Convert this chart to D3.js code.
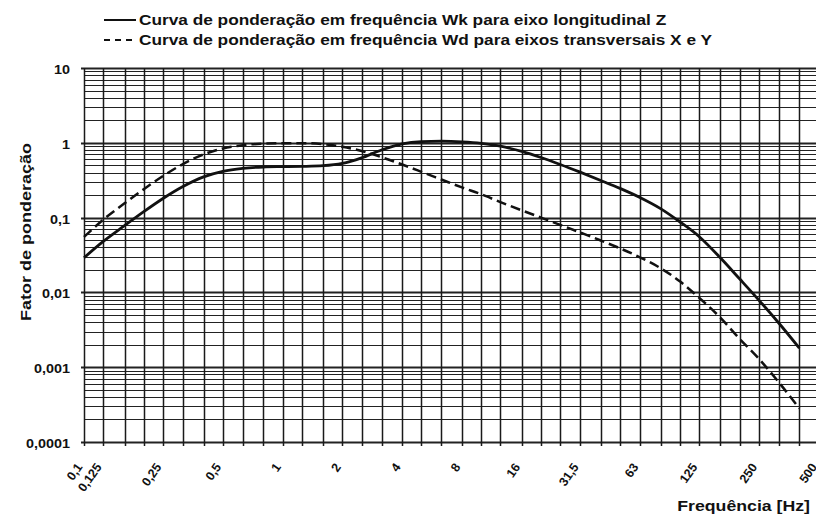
<!DOCTYPE html>
<html>
<head>
<meta charset="utf-8">
<script src="https://cdn.jsdelivr.net/npm/d3@7"></script>
<style>
  body { margin: 0; background: #fff; }
  text { font-family: "Liberation Sans", Arial, sans-serif; font-weight: bold; fill: #111; }
</style>
</head>
<body>
<script>
// third-octave band centre frequencies (Hz) where the curves are read
const freqs = [0.1, 0.125, 0.16, 0.2, 0.25, 0.315, 0.4, 0.5, 0.63, 0.8, 1, 1.25, 1.6, 2, 2.5, 3.15,
  4, 5, 6.3, 8, 10, 12.5, 16, 20, 25, 31.5, 40, 50, 63, 80, 100, 125, 160, 200, 250, 315, 400];
// Wk (solid) - eixo longitudinal Z
const wk = [0.029, 0.048, 0.078, 0.12, 0.18, 0.26, 0.35, 0.415, 0.455, 0.475, 0.48, 0.484, 0.494,
  0.53, 0.63, 0.8, 0.965, 1.035, 1.05, 1.03, 0.985, 0.9, 0.768, 0.636, 0.513, 0.405, 0.314,
  0.246, 0.186, 0.132, 0.088, 0.056, 0.029, 0.0152, 0.0079, 0.0039, 0.0018];
// Wd (dashed) - eixos transversais X e Y
const wd = [0.055, 0.094, 0.155, 0.24, 0.36, 0.52, 0.7, 0.84, 0.93, 0.975, 0.99, 0.99, 0.96,
  0.885, 0.776, 0.642, 0.512, 0.409, 0.323, 0.253, 0.205, 0.161, 0.125, 0.1, 0.08, 0.0632,
  0.0494, 0.0388, 0.0295, 0.0211, 0.0141, 0.0085, 0.0046, 0.0024, 0.0013, 0.00063, 0.00028];

// vertical grid: all third-octave bands up to 500 Hz
const gridFreqs = freqs.concat([500]);
// labelled frequencies on the x axis
const xTicks = [0.1, 0.125, 0.25, 0.5, 1, 2, 4, 8, 16, 31.5, 63, 125, 250, 500];
const yTicks = [10, 1, 0.1, 0.01, 0.001, 0.0001];

const legendItems = [
  {label: "Curva de ponderação em frequência Wk para eixo longitudinal Z", dash: null, values: wk},
  {label: "Curva de ponderação em frequência Wd para eixos transversais X e Y", dash: "6,5", values: wd}
];

const W = 816, H = 515;
const plot = {left: 84, right: 818.6, top: 68, bottom: 442};

const fmt = v => String(v).replace(".", ",");

const x = d3.scaleLog().domain([0.1, 500]).range([plot.left, plot.right]);
const y = d3.scaleLog().domain([0.0001, 10]).range([plot.bottom, plot.top]);

const svg = d3.select("body").append("svg")
  .attr("width", W).attr("height", H);

// stretch text along its direction (original lettering is wide)
const stretch = (sel, k) => sel.each(function() {
  const len = this.getComputedTextLength();
  d3.select(this).attr("textLength", len * k).attr("lengthAdjust", "spacingAndGlyphs");
});

const isDecade = d => Math.abs(Math.log10(d) % 1) < 1e-9;

// horizontal grid: 1..9 in each decade
const minor = [];
for (let e = -4; e < 1; e++) for (let m = 1; m < 10; m++) minor.push(m * Math.pow(10, e));
minor.push(10);

svg.append("g").selectAll("line").data(minor).enter().append("line")
  .attr("x1", d => (isDecade(d) ? plot.left - 3 : plot.left))
  .attr("x2", W)
  .attr("y1", d => Math.round(y(d)) + 0.5)
  .attr("y2", d => Math.round(y(d)) + 0.5)
  .attr("stroke", "#222")
  .attr("stroke-width", d => (isDecade(d) ? 1.8 : 1.1));

// vertical grid
svg.append("g").selectAll("line").data(gridFreqs).enter().append("line")
  .attr("x1", d => Math.round(x(d)) + 0.5)
  .attr("x2", d => Math.round(x(d)) + 0.5)
  .attr("y1", plot.top)
  .attr("y2", plot.bottom + 4)
  .attr("stroke", "#1a1a1a")
  .attr("stroke-width", 1.5);

// y labels
svg.append("g").selectAll("text").data(yTicks).enter().append("text")
  .attr("x", 70)
  .attr("y", d => y(d) + 6)
  .attr("text-anchor", "end")
  .style("font-size", "12.5px")
  .text(fmt)
  .call(stretch, 1.15);

// x labels, rotated
svg.append("g").selectAll("text").data(xTicks).enter().append("text")
  .attr("transform", d => `translate(${x(d) - 1}, 467) rotate(-55)`)
  .attr("text-anchor", "end")
  .style("font-size", "12.5px")
  .text(fmt);

// curves
const line = d3.line()
  .x((d, i) => x(freqs[i]))
  .y(d => y(d))
  .curve(d3.curveMonotoneX);

svg.append("path").datum(wk)
  .attr("d", line)
  .attr("fill", "none").attr("stroke", "#111").attr("stroke-width", 2.8);

svg.append("path").datum(wd)
  .attr("d", line)
  .attr("fill", "none").attr("stroke", "#111").attr("stroke-width", 2.5)
  .attr("stroke-dasharray", "10,5");

// axis titles
svg.append("text")
  .attr("transform", "translate(31, 232) rotate(-90)")
  .attr("text-anchor", "middle")
  .style("font-size", "15px")
  .text("Fator de ponderação")
  .call(stretch, 1.2);

svg.append("text")
  .attr("x", 810).attr("y", 511)
  .attr("text-anchor", "end")
  .style("font-size", "15px")
  .text("Frequência [Hz]")
  .call(stretch, 1.18);

// legend
const leg = svg.append("g").selectAll("g").data(legendItems).enter().append("g")
  .attr("transform", (d, i) => `translate(0, ${25 + i * 20})`);

leg.append("line")
  .attr("x1", 104).attr("x2", 136)
  .attr("y1", -5).attr("y2", -5)
  .attr("stroke", "#111").attr("stroke-width", 2)
  .attr("stroke-dasharray", d => d.dash);

leg.append("text")
  .attr("x", 139)
  .style("font-size", "15px")
  .text(d => d.label)
  .call(stretch, 1.15);
</script>
</body>
</html>
